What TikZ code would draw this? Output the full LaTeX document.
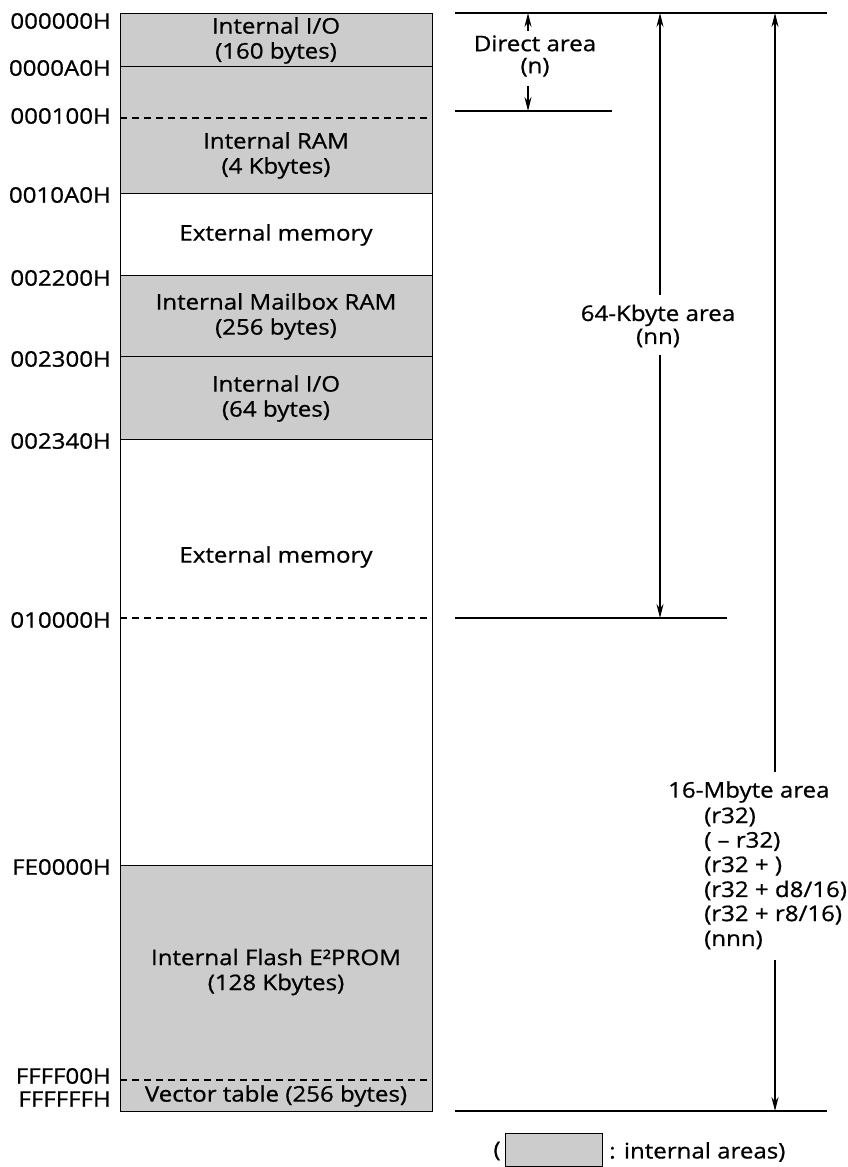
\documentclass[tikz,border=0pt]{standalone}
\usepackage{fontspec}
\setmainfont{Open Sans}[FakeStretch=1.12, FakeBold=0.8]
\usetikzlibrary{arrows.meta}
\begin{document}
\begin{tikzpicture}[x=1pt,y=-1pt,
  every node/.style={font=\fontsize{21.5}{25}\selectfont, inner sep=0pt},
  region/.style={draw=black, line width=1.2pt, minimum width=312pt, anchor=north west},
  internal/.style={region, fill=black!20},
  external/.style={region, fill=white},
  addr/.style={anchor=east},
  lbl/.style={align=center},
  sep/.style={line width=1.1pt, dash pattern=on 7pt off 5pt},
  dim/.style={line width=1.2pt},
  arr/.style={line width=1.2pt, -{Stealth[length=14pt,width=7pt]}}]
\useasboundingbox (0,0) rectangle (847,1167);

% memory regions
\node[internal, minimum height=53pt]  (io1)  at (120,13)  {};
\node[internal, minimum height=127pt] (ram)  at (120,66)  {};
\node[external, minimum height=82pt]  (ext1) at (120,193) {};
\node[internal, minimum height=81pt]  (mbx)  at (120,275) {};
\node[internal, minimum height=83pt]  (io2)  at (120,356) {};
\node[external, minimum height=426pt] (ext2) at (120,439) {};
\node[internal, minimum height=246pt] (fl)   at (120,865) {};
\draw[sep] (ram.west |- 0,118) coordinate (d1a) -- (ram.east |- 0,118) coordinate (d1b);
\draw[sep] (ext2.west |- 0,618) coordinate (d2a) -- (ext2.east |- 0,618) coordinate (d2b);
\draw[sep] (fl.west |- 0,1080) coordinate (d3a) -- (fl.east |- 0,1080) coordinate (d3b);

% region texts
\node[lbl] (t1) at (276,40.5) {Internal I/O\\(160 bytes)};
\node[lbl] (t2) at (276,155.5) {Internal RAM\\(4 Kbytes)};
\node[lbl] (t3) at (276,235) {External memory};
\node[lbl] (t4) at (276,316.5) {Internal Mailbox RAM\\(256 bytes)};
\node[lbl] (t5) at (276,398.5) {Internal I/O\\(64 bytes)};
\node[lbl] (t6) at (276,557) {External memory};
\node[lbl] (t7) at (276,972) {Internal Flash E²PROM\\(128 Kbytes)};
\node[lbl] (t8) at (276,1096) {Vector table (256 bytes)};

% addresses
\node[addr] (a1) at (111,21) {000000H};
\node[addr] (a2) at (111,68) {0000A0H};
\node[addr] (a3) at (111,116) {000100H};
\node[addr] (a4) at (111,195) {0010A0H};
\node[addr] (a5) at (111,278) {002200H};
\node[addr] (a6) at (111,359) {002300H};
\node[addr] (a7) at (111,441) {002340H};
\node[addr] (a8) at (111,620) {010000H};
\node[addr] (a9) at (111,867) {FE0000H};
\node[addr] (a10) at (111,1076) {FFFF00H};
\node[addr] (a11) at (111,1099) {FFFFFFH};

% right reference lines
\coordinate (r0a) at (455,13);   \coordinate (r0b) at (827,13);
\coordinate (r1a) at (455,111);  \coordinate (r1b) at (612,111);
\coordinate (r2a) at (455,618);  \coordinate (r2b) at (727,618);
\coordinate (r3a) at (455,1111); \coordinate (r3b) at (827,1111);
\draw[dim] (r0a) -- (r0b);
\draw[dim] (r1a) -- (r1b);
\draw[dim] (r2a) -- (r2b);
\draw[dim] (r3a) -- (r3b);

% direct area
\node[lbl, font=\fontsize{21.5}{22}\selectfont] (dir) at (535,56) {Direct area\\(n)};
\coordinate (dup) at (528,31);  \coordinate (dupt) at (528,13);
\coordinate (ddn) at (528,86);  \coordinate (ddnt) at (528,111);
\draw[arr] (dup) -- (dupt);
\draw[arr] (ddn) -- (ddnt);

% 64-Kbyte area
\node[lbl, font=\fontsize{21.5}{23}\selectfont] (k64) at (658,326) {64-Kbyte area\\(nn)};
\coordinate (kup) at (660,295);  \coordinate (kupt) at (660,13);
\coordinate (kdn) at (660,355);  \coordinate (kdnt) at (660,618);
\draw[arr] (kup) -- (kupt);
\draw[arr] (kdn) -- (kdnt);

% 16-Mbyte area
\node[anchor=west] (m0) at (668,792) {16-Mbyte area};
\node[anchor=west] (m1) at (704,817) {(r32)};
\node[anchor=west] (m2) at (704,841.5) {( – r32)};
\node[anchor=west] (m3) at (704,866) {(r32 + )};
\node[anchor=west] (m4) at (704,890.5) {(r32 + d8/16)};
\node[anchor=west] (m5) at (704,915) {(r32 + r8/16)};
\node[anchor=west] (m6) at (704,940) {(nnn)};
\coordinate (mup) at (775,772);  \coordinate (mupt) at (775,13);
\coordinate (mdn) at (775,960);  \coordinate (mdnt) at (775,1111);
\draw[arr] (mup) -- (mupt);
\draw[arr] (mdn) -- (mdnt);

% legend
\node (lp) at (497,1151) {(};
\node[internal, minimum width=97pt, minimum height=33pt] (lbox) at (505,1133) {};
\node[anchor=west] (ltxt) at (609,1152) {: internal areas)};
\end{tikzpicture}
\end{document}
